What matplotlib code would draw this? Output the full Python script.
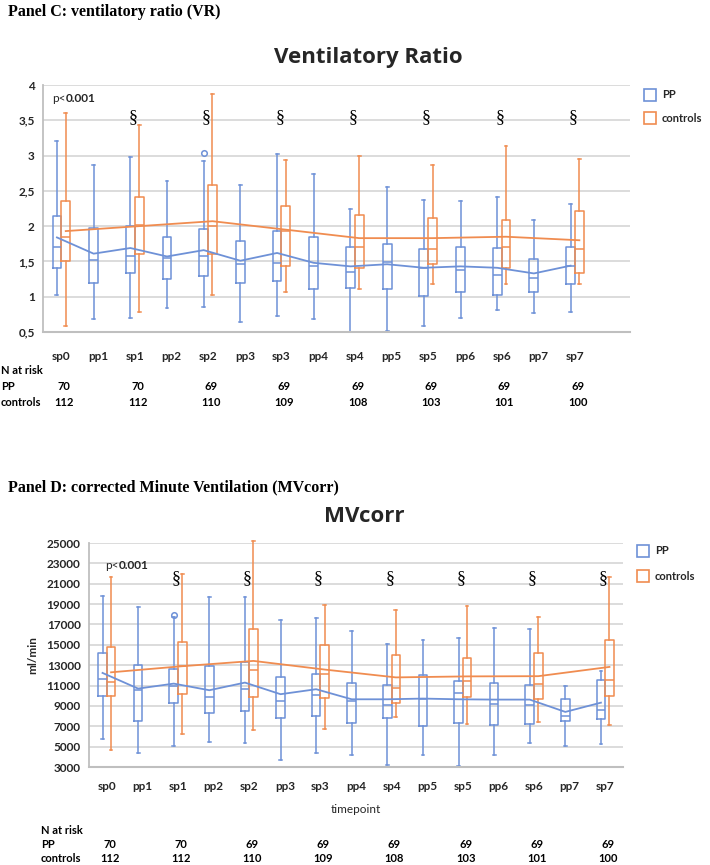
import matplotlib
matplotlib.use("Agg")
import matplotlib.pyplot as plt
import matplotlib.transforms as mtransforms
from matplotlib.lines import Line2D
from matplotlib.ticker import FuncFormatter

plt.rcParams["font.family"] = ["Lato", "DejaVu Sans"]

# ---- data ----
timepoints = ["sp0", "pp1", "sp1", "pp2", "sp2", "pp3", "sp3", "pp4",
              "sp4", "pp5", "sp5", "pp6", "sp6", "pp7", "sp7"]
sp_idx = [0, 2, 4, 6, 8, 10, 12, 14]
n_pp = [70, 70, 69, 69, 69, 69, 69, 69]
n_controls = [112, 112, 110, 109, 108, 103, 101, 100]

# Panel C: ventilatory ratio, PP at every timepoint
vr_pp_lo = [1.02, 0.69, 0.70, 0.84, 0.86, 0.64, 0.73, 0.68, 0.50, 0.52, 0.58, 0.70, 0.81, 0.77, 0.79]
vr_pp_q1 = [1.41, 1.20, 1.34, 1.25, 1.29, 1.20, 1.22, 1.11, 1.13, 1.11, 1.01, 1.06, 1.02, 1.06, 1.18]
vr_pp_med = [1.71, 1.52, 1.58, 1.55, 1.57, 1.46, 1.48, 1.43, 1.35, 1.49, 1.41, 1.38, 1.31, 1.27, 1.43]
vr_pp_q3 = [2.14, 1.98, 2.00, 1.84, 1.96, 1.79, 1.93, 1.84, 1.71, 1.74, 1.68, 1.70, 1.69, 1.54, 1.70]
vr_pp_hi = [3.20, 2.86, 2.98, 2.64, 2.93, 2.59, 3.02, 2.74, 2.24, 2.55, 2.37, 2.35, 2.42, 2.09, 2.31]
vr_pp_mean = [1.84, 1.61, 1.69, 1.57, 1.66, 1.51, 1.62, 1.48, 1.43, 1.46, 1.41, 1.43, 1.41, 1.33, 1.44]
vr_pp_out = {4: [3.04]}
# controls only at sp timepoints
vr_ct_lo = [0.59, 0.79, 1.02, 1.06, 1.11, 1.18, 1.18, 1.18]
vr_ct_q1 = [1.51, 1.60, 1.61, 1.43, 1.40, 1.46, 1.40, 1.34]
vr_ct_med = [1.84, 2.02, 2.00, 1.93, 1.71, 1.67, 1.71, 1.68]
vr_ct_q3 = [2.36, 2.41, 2.58, 2.28, 2.16, 2.11, 2.09, 2.21]
vr_ct_hi = [3.60, 3.44, 3.87, 2.94, 2.99, 2.87, 3.13, 2.95]
vr_ct_mean = [1.93, 2.00, 2.07, 1.95, 1.83, 1.83, 1.85, 1.80]

# Panel D: corrected minute ventilation (ml/min)
mv_pp_lo = [5780, 4400, 5060, 5420, 5390, 3650, 4400, 4210, 3220, 4140, 3090, 4210, 5390, 5060, 5290]
mv_pp_q1 = [9980, 7490, 9320, 8310, 8470, 7820, 8010, 7320, 7820, 7030, 7360, 7160, 7260, 7490, 7750]
mv_pp_med = [11650, 10600, 10960, 9880, 10700, 9520, 10110, 9490, 9130, 9720, 10270, 9230, 9060, 7980, 8640]
mv_pp_q3 = [14245, 13030, 12640, 12930, 13290, 11850, 12180, 11290, 11030, 12080, 11460, 11260, 11030, 9650, 11520]
mv_pp_hi = [19770, 18700, 17700, 19670, 19670, 17420, 17650, 16380, 15060, 15460, 15690, 16700, 16510, 10930, 12440]
mv_pp_mean = [12240, 10700, 11190, 10540, 11290, 10150, 10640, 9650, 9650, 9720, 9650, 9620, 9620, 8410, 9320]
mv_pp_out = {2: [17880]}
mv_ct_lo = [4700, 6270, 6600, 6770, 7910, 7260, 7420, 7160]
mv_ct_q1 = [9980, 10210, 9880, 9780, 9320, 9880, 9650, 9950]
mv_ct_med = [11300, 12900, 12570, 12180, 10770, 11460, 11190, 11590]
mv_ct_q3 = [14740, 15260, 16600, 14970, 13980, 13720, 14150, 15520]
mv_ct_hi = [21630, 21960, 25200, 18890, 18420, 18810, 17730, 21630]
mv_ct_mean = [12300, 12900, 13420, 12570, 11800, 11900, 11920, 12830]

BLUE = "#6E91D7"
ORANGE = "#F08C50"
GRID = "#D9D9D9"
TXT = "#262626"

W, H = 710, 865
fig = plt.figure(figsize=(W / 100, H / 100), dpi=100)


def px(x, y):
    return x / W, 1 - y / H


def make_stats(lo, q1, med, q3, hi, out=None):
    out = out or {}
    return [dict(whislo=lo[i], q1=q1[i], med=med[i], q3=q3[i], whishi=hi[i],
                 fliers=out.get(i, [])) for i in range(len(lo))]


def boxes(ax, stats, pos, color):
    lp = dict(color=color, lw=1.1)
    art = ax.bxp(stats, positions=pos, widths=0.24, capwidths=0.08,
                 boxprops=lp, medianprops=lp, whiskerprops=lp, capprops=lp,
                 flierprops=dict(marker="o", markerfacecolor="none",
                                 markeredgecolor=color, markersize=4, mew=1.1),
                 manage_ticks=False)
    for group in art.values():
        for a in group:
            a.set_clip_on(False)


def panel(ax, pp, pp_mean, ct, ct_mean, nslots, xpad):
    xs = list(range(len(timepoints)))
    pp_pos = [x - 0.12 for x in xs]
    ct_pos = [sp_idx[i] + 0.12 for i in range(len(sp_idx))]
    boxes(ax, pp, pp_pos, BLUE)
    boxes(ax, ct, ct_pos, ORANGE)
    ax.plot(pp_pos, pp_mean, color=BLUE, lw=1.3)
    ax.plot(ct_pos, ct_mean, color=ORANGE, lw=1.3)
    ax.set_xlim(-0.5, nslots - 0.5)
    ax.set_xticks(xs)
    ax.set_xticklabels(timepoints, fontweight="bold", fontsize=8, color=TXT)
    ax.yaxis.grid(True, color=GRID, lw=1.3)
    ax.set_axisbelow(True)
    for s in ("top", "right"):
        ax.spines[s].set_visible(False)
    ax.spines["left"].set_color("#BFBFBF")
    ax.spines["bottom"].set_color("#BFBFBF")
    ax.spines["left"].set_linewidth(1.3)
    ax.spines["bottom"].set_linewidth(1.5)
    ax.tick_params(length=0, labelsize=8.5, colors=TXT, pad=6)
    ax.tick_params(axis="x", pad=xpad)


def legend(x, y0, dy):
    for i, (lab, c) in enumerate([("PP", BLUE), ("controls", ORANGE)]):
        fx, fy = px(x, y0 + i * dy)
        fig.lines.append(Line2D([fx], [fy], marker="s", markersize=9, markerfacecolor="none",
                                markeredgecolor=c, mew=1.2, transform=fig.transFigure))
        fig.text(fx + 12 / W, fy, lab, fontsize=8, fontweight="bold", color=TXT, va="center")


def pvalue(ax, x, y):
    t = ax.text(x, y, "p<", fontsize=8.5, color=TXT, va="center", transform=ax.transAxes)
    ax.annotate("0.001", xy=(1, 0.5), xycoords=t, va="center", fontsize=8.5,
                fontweight="bold", color=TXT)


def table(ax, y0, xlab, dy):
    tr = mtransforms.blended_transform_factory(ax.transData, fig.transFigure)
    rows = [("N at risk", None), ("PP", n_pp), ("controls", n_controls)]
    for r, (lab, vals) in enumerate(rows):
        fy = px(0, y0 + r * dy)[1]
        fig.text(xlab / W, fy, lab, fontsize=8, fontweight="bold", color="black", va="center")
        if vals:
            for i, v in zip(sp_idx, vals):
                ax.text(i + 0.08, fy, str(v), transform=tr, fontsize=8, fontweight="bold",
                        ha="center", va="center", color="black")


# ---- Panel C ----
fig.text(*px(8, 12), "Panel C: ventilatory ratio (VR)", family=["Liberation Serif"],
         fontweight="bold", fontsize=11.5, va="center")
fig.text(*px(368, 58), "Ventilatory Ratio", family=["Open Sans", "DejaVu Sans"],
         fontsize=16, fontweight="bold", color=TXT, ha="center", va="center")
l, t = px(43, 85)
r, b = px(630, 332)
axc = fig.add_axes([l, b, r - l, t - b])
panel(axc, make_stats(vr_pp_lo, vr_pp_q1, vr_pp_med, vr_pp_q3, vr_pp_hi, vr_pp_out),
      vr_pp_mean,
      make_stats(vr_ct_lo, vr_ct_q1, vr_ct_med, vr_ct_q3, vr_ct_hi), vr_ct_mean, 16, 14)
axc.set_ylim(0.5, 4)
axc.set_yticks([0.5, 1, 1.5, 2, 2.5, 3, 3.5, 4])
axc.yaxis.set_major_formatter(FuncFormatter(lambda v, p: f"{v:g}".replace(".", ",")))
for t_ in axc.get_yticklabels():
    t_.set_fontweight("bold")
for i in sp_idx[1:]:
    axc.text(i - 0.05, 3.54, "§", family=["Liberation Serif"], fontsize=13,
             ha="center", va="center")
pvalue(axc, 0.016, 0.945)
legend(650, 95, 23)
table(axc, 370, 1, 16)

# ---- Panel D ----
fig.text(*px(8, 487), "Panel D: corrected Minute Ventilation (MVcorr)", family=["Liberation Serif"],
         fontweight="bold", fontsize=11.5, va="center")
fig.text(*px(364, 517), "MVcorr", family=["Open Sans", "DejaVu Sans"],
         fontsize=16, fontweight="bold", color=TXT, ha="center", va="center")
l, t = px(89, 543)
r, b = px(623, 767)
axd = fig.add_axes([l, b, r - l, t - b])
panel(axd, make_stats(mv_pp_lo, mv_pp_q1, mv_pp_med, mv_pp_q3, mv_pp_hi, mv_pp_out),
      mv_pp_mean,
      make_stats(mv_ct_lo, mv_ct_q1, mv_ct_med, mv_ct_q3, mv_ct_hi), mv_ct_mean, 15, 10)
axd.set_ylim(3000, 25000)
axd.set_yticks(range(3000, 25001, 2000))
for t_ in axd.get_yticklabels():
    t_.set_fontweight("bold")
for i in sp_idx[1:]:
    axd.text(i - 0.05, 21500, "§", family=["Liberation Serif"], fontsize=13,
             ha="center", va="center")
pvalue(axd, 0.03, 0.9)
axd.set_ylabel("ml/min", fontsize=8.5, fontweight="bold", color=TXT, labelpad=6)
axd.set_xlabel("timepoint", fontsize=8.5, color=TXT, labelpad=9)
legend(643, 551, 25)
table(axd, 830, 41, 14.5)

fig.savefig("out.png", dpi=100)
